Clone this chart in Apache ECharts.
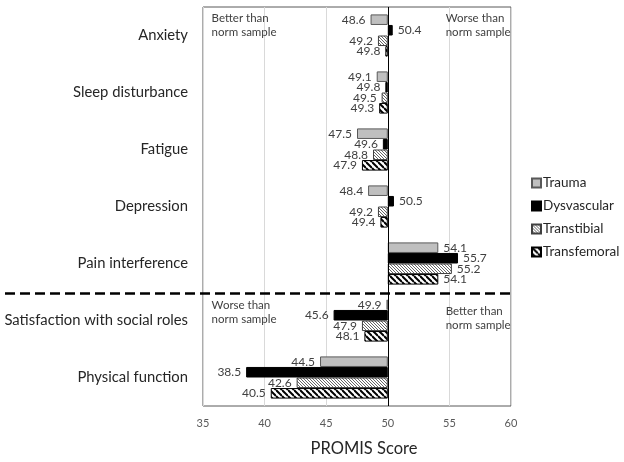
<!DOCTYPE html>
<html>
<head>
<meta charset="utf-8">
<script src="https://cdn.jsdelivr.net/npm/echarts@6/dist/echarts.min.js"></script>
<style>html,body{margin:0;padding:0;background:#fff;}#main{width:624px;height:462px;}</style>
</head>
<body>
<div id="main"></div>
<script>
var categories = ['Anxiety', 'Sleep disturbance', 'Fatigue', 'Depression', 'Pain interference', 'Satisfaction with social roles', 'Physical function'];
var seriesNames = ['Trauma', 'Dysvascular', 'Transtibial', 'Transfemoral'];
var trauma = [48.6, 49.1, 47.5, 48.4, 54.1, 49.9, 44.5];
var dysvascular = [50.4, 49.8, 49.6, 50.5, 55.7, 45.6, 38.5];
var transtibial = [49.2, 49.5, 48.8, 49.2, 55.2, 47.9, 42.6];
var transfemoral = [49.8, 49.3, 47.9, 49.4, 54.1, 48.1, 40.5];
var xTicks = [35, 40, 45, 50, 55, 60];
var baseline = 50;

function makePattern(size, lineWidth, color) {
  var c = document.createElement('canvas');
  c.width = size; c.height = size;
  var ctx = c.getContext('2d');
  ctx.fillStyle = '#fff';
  ctx.fillRect(0, 0, size, size);
  ctx.strokeStyle = color;
  ctx.lineWidth = lineWidth;
  for (var k = -1; k <= 1; k++) {
    ctx.beginPath();
    ctx.moveTo(0, k * size);
    ctx.lineTo(size, size + k * size);
    ctx.stroke();
  }
  return { image: c, repeat: 'repeat' };
}

var fills = [
  '#bfbfbf',
  '#000000',
  makePattern(3, 0.9, '#555555'),
  makePattern(6, 2, '#000000')
];
var borders = ['#595959', '#000000', '#404040', '#000000'];
var allValues = [trauma, dysvascular, transtibial, transfemoral];

var series = [];
allValues.forEach(function (vals, i) {
  var stackName = 's' + i;
  series.push({
    type: 'bar', stack: stackName, name: '_base' + i,
    data: vals.map(function (v) { return Math.min(v, baseline); }),
    itemStyle: { color: 'transparent', borderWidth: 0 },
    emphasis: { disabled: true }, silent: true,
    barCategoryGap: '26%', barGap: '0%'
  });
  series.push({
    type: 'bar', stack: stackName, name: seriesNames[i],
    data: vals.map(function (v) {
      return {
        value: Math.abs(v - baseline),
        label: { position: v < baseline ? 'left' : 'right' }
      };
    }),
    itemStyle: { color: fills[i], borderColor: borders[i], borderWidth: 1 },
    label: {
      show: true, distance: 5, fontSize: 12, color: '#404040', fontFamily: 'Lato',
      formatter: (function (arr) { return function (p) { return arr[p.dataIndex].toFixed(1); }; })(vals)
    },
    barCategoryGap: '26%', barGap: '0%',
    markLine: i === 0 ? {
      silent: true, symbol: 'none', label: { show: false },
      lineStyle: { color: '#000', type: 'solid', width: 1 },
      data: [{ xAxis: baseline }]
    } : undefined
  });
});

var chart = echarts.init(document.getElementById('main'));
var option = {
  animation: false,
  backgroundColor: '#fff',
  textStyle: { fontFamily: 'Lato' },
  grid: { left: 203, right: 113, top: 7, bottom: 54, show: true, borderColor: '#595959', borderWidth: 1, backgroundColor: 'transparent' },
  legend: {
    data: seriesNames, orient: 'vertical', left: 526, top: 171, icon: 'rect',
    itemWidth: 9, itemHeight: 9, itemGap: 9,
    textStyle: { fontSize: 13.5, lineHeight: 13, color: '#262626', fontFamily: 'Lato', padding: [0, 0, 0, -3] }
  },
  xAxis: {
    type: 'value', min: 35, max: 60, interval: 5,
    name: 'PROMIS Score', nameLocation: 'middle', nameGap: 34,
    nameTextStyle: { fontSize: 16.5, color: '#262626', fontFamily: 'Lato', padding: [0, 0, 0, 14] },
    axisLine: { show: false }, axisTick: { show: false },
    axisLabel: { fontSize: 11, color: '#595959', margin: 12, formatter: function (v) { return xTicks.indexOf(v) >= 0 ? String(v) : ''; } },
    splitLine: { show: true, lineStyle: { color: '#d9d9d9', width: 1 } }
  },
  yAxis: {
    type: 'category', data: categories, inverse: true,
    axisLine: { show: false }, axisTick: { show: false },
    axisLabel: { fontSize: 14.8, color: '#262626', margin: 15, fontFamily: 'Lato', padding: [4, 0, 0, 0] }
  },
  series: series
};
chart.setOption(option);

function addGraphics() {
  var yPain = chart.convertToPixel({ yAxisIndex: 0 }, categories[4]);
  var ySat = chart.convertToPixel({ yAxisIndex: 0 }, categories[5]);
  var yMid = (yPain + ySat) / 2 + 1.5;
  var xRight = chart.convertToPixel({ xAxisIndex: 0 }, 60);
  var xLeftText = chart.convertToPixel({ xAxisIndex: 0 }, 35.7);
  var xRightText = chart.convertToPixel({ xAxisIndex: 0 }, 54.7);
  var yTop = chart.convertToPixel({ yAxisIndex: 0 }, categories[0]);
  var txt = { fontSize: 11.5, fill: '#404040', fontFamily: 'Lato', lineHeight: 14 };
  chart.setOption({
    graphic: [
      { type: 'line', shape: { x1: 5, y1: yMid, x2: xRight, y2: yMid }, style: { stroke: '#000', lineWidth: 2.5, lineDash: [10, 5] }, z: 10 },
      { type: 'text', x: xLeftText, y: yTop - 24, style: Object.assign({ text: 'Better than\nnorm sample' }, txt) },
      { type: 'text', x: xRightText, y: yTop - 24, style: Object.assign({ text: 'Worse than\nnorm sample' }, txt) },
      { type: 'text', x: xLeftText, y: yMid + 5, style: Object.assign({ text: 'Worse than\nnorm sample' }, txt) },
      { type: 'text', x: xRightText, y: yMid + 11, style: Object.assign({ text: 'Better than\nnorm sample' }, txt) }
    ]
  });
}
addGraphics();
</script>
</body>
</html>
